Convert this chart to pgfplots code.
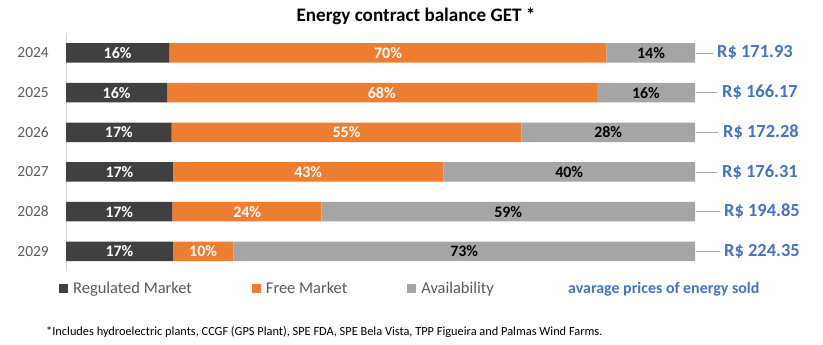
\documentclass[border=0pt]{standalone}
\usepackage{pgfplots}
\pgfplotsset{compat=1.18}
\usepackage{fontspec}
\setmainfont{Carlito}
\definecolor{cdark}{HTML}{404040}
\definecolor{corange}{HTML}{ED7D31}
\definecolor{cgray}{HTML}{A5A5A5}
\definecolor{cblue}{HTML}{4472C4}
\definecolor{ctick}{HTML}{595959}
\definecolor{cline}{HTML}{A6A6A6}
\pgfplotsset{legsq/.style={legend image code/.code={\fill[##1] (0bp,-4.5bp) rectangle (9bp,4.5bp);}}}
\begin{document}
\begin{tikzpicture}[x=1bp,y=1bp]
\useasboundingbox (0,0) rectangle (823,344);
\node[font=\bfseries\fontsize{19.2}{21}\selectfont, anchor=base] at (416,323) {Energy contract balance GET *};
\begin{axis}[
  at={(66bp,72.9bp)}, anchor=south west, scale only axis,
  width=629bp, height=238bp,
  xmin=0, xmax=100, ymin=-0.5, ymax=5.5,
  xbar stacked, bar width=19.5bp,
  axis x line=none, axis y line*=left,
  y axis line style={color=gray!35, line width=0.8bp},
  ytick={0,1,2,3,4,5},
  yticklabels={2029,2028,2027,2026,2025,2024},
  major tick length=0pt,
  yticklabel style={font=\fontsize{15.5}{17}\selectfont, text=ctick, inner sep=0pt, anchor=east, xshift=-17bp},
  legend columns=-1,
  legend style={at={(axis description cs:-0.0111,-0.0718)}, anchor=west, draw=none, fill=none, inner sep=0pt,
    nodes={inner sep=0pt, font=\fontsize{16.5}{18}\selectfont, text=ctick},
    /tikz/every odd column/.append style={column sep=5bp},
    /tikz/every even column/.append style={column sep=60bp}},
  clip=false,
]
\addplot[fill=cdark, draw=none, legsq] coordinates {(16.4,5) (16.1,4) (16.8,3) (17.0,2) (16.9,1) (17.0,0)};
\addlegendentry{Regulated Market}
\addplot[fill=corange, draw=none, legsq] coordinates {(69.5,5) (68.3,4) (55.6,3) (43.0,2) (23.7,1) (9.6,0)};
\addlegendentry{Free Market}
\addplot[fill=cgray, draw=none, legsq] coordinates {(14.1,5) (15.6,4) (27.6,3) (40.0,2) (59.4,1) (73.4,0)};
\addlegendentry{Availability}
\end{axis}
\begin{axis}[
  at={(66bp,72.9bp)}, anchor=south west, scale only axis,
  width=629bp, height=238bp,
  xmin=0, xmax=100, ymin=-0.5, ymax=5.5,
  hide axis, clip=false,
]
\addplot[only marks, mark size=0pt, point meta=explicit symbolic, nodes near coords={\pgfplotspointmeta\%},
  every node near coord/.append style={anchor=center, text=white, font=\bfseries\fontsize{16}{18}\selectfont}]
  coordinates {(8.2,5) [16] (8.05,4) [16] (8.4,3) [17] (8.5,2) [17] (8.45,1) [17] (8.5,0) [17]};
\addplot[only marks, mark size=0pt, point meta=explicit symbolic, nodes near coords={\pgfplotspointmeta\%},
  every node near coord/.append style={anchor=center, text=white, font=\bfseries\fontsize{16}{18}\selectfont}]
  coordinates {(51.2,5) [70] (50.2,4) [68] (44.6,3) [55] (38.5,2) [43] (28.8,1) [24] (21.8,0) [10]};
\addplot[only marks, mark size=0pt, point meta=explicit symbolic, nodes near coords={\pgfplotspointmeta\%},
  every node near coord/.append style={anchor=center, text=black, font=\bfseries\fontsize{16}{18}\selectfont}]
  coordinates {(93,5) [14] (92.2,4) [16] (86.2,3) [28] (80,2) [40] (70.3,1) [59] (63.3,0) [73]};
\addplot[no marks, color=cline, line width=0.8bp] coordinates {(100.16,5) (102.86,5)};
\addplot[no marks, color=cline, line width=0.8bp] coordinates {(100.16,4) (103.5,4)};
\addplot[no marks, color=cline, line width=0.8bp] coordinates {(100.16,3) (103.66,3)};
\addplot[no marks, color=cline, line width=0.8bp] coordinates {(100.16,2) (103.5,2)};
\addplot[no marks, color=cline, line width=0.8bp] coordinates {(100.16,1) (103.97,1)};
\addplot[no marks, color=cline, line width=0.8bp] coordinates {(100.16,0) (103.97,0)};
\addplot[only marks, mark size=0pt, point meta=explicit symbolic, nodes near coords={R\$ \pgfplotspointmeta},
  every node near coord/.append style={anchor=west, inner sep=0pt, text=cblue, font=\bfseries\fontsize{18.5}{20}\selectfont}]
  coordinates {(103.5,5) [171.93] (104.29,4) [166.17] (104.45,3) [172.28] (104.29,2) [176.31] (104.61,1) [194.85] (104.61,0) [224.35]};
\end{axis}
\node[anchor=west, inner sep=0pt, text=cblue, font=\bfseries\fontsize{16}{18}\selectfont] at (568,55) {avarage prices of energy sold};
\node[anchor=base west, inner sep=0pt, font=\fontsize{12.4}{14}\selectfont] at (46,9) {*Includes hydroelectric plants, CCGF (GPS Plant), SPE FDA, SPE Bela Vista, TPP Figueira and Palmas Wind Farms.};
\end{tikzpicture}
\end{document}
